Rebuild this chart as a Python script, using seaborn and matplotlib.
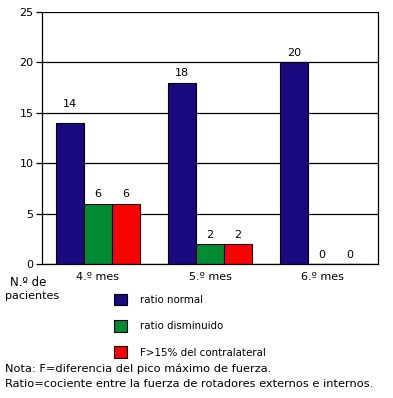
import pandas as pd
import seaborn as sns
import matplotlib.pyplot as plt
from matplotlib.ticker import FixedLocator

meses = ['4.º mes', '5.º mes', '6.º mes']
series = ['ratio normal', 'ratio disminuido', 'F>15% del contralateral']
ratio_normal = [14, 18, 20]
ratio_disminuido = [6, 2, 0]
f_contralateral = [6, 2, 0]
colores = ['#1a0a80', '#008c32', '#ff0000']

df = pd.DataFrame({
    'mes': meses * 3,
    'serie': [s for s in series for _ in meses],
    'n': ratio_normal + ratio_disminuido + f_contralateral,
})

sns.set_style('white')
plt.rcParams['font.family'] = ['DejaVu Sans']
plt.rcParams['text.color'] = 'black'
plt.rcParams['xtick.color'] = 'black'
plt.rcParams['ytick.color'] = 'black'

fig = plt.figure(figsize=(3.93, 3.98), dpi=100)
ax = fig.add_axes([42 / 393, 1 - 264 / 398, 336 / 393, 252 / 398])

sns.barplot(data=df, x='mes', y='n', hue='serie', palette=colores, saturation=1,
            width=0.75, edgecolor='black', linewidth=0.8, ax=ax, legend=True)

# a label that would sit on a gridline just above the bar is pushed up past it
for c in ax.containers:
    vals = c.datavalues
    near = [(v % 5) >= 3.5 for v in vals]
    ax.bar_label(c, labels=['' if n else f'{v:g}' for v, n in zip(vals, near)],
                 fontsize=8, padding=3, color='black')
    ax.bar_label(c, labels=[f'{v:g}' if n else '' for v, n in zip(vals, near)],
                 fontsize=8, padding=10, color='black')

ax.set_xlim(-0.5, 2.5)
ax.set_ylim(0, 25)
ax.set_yticks(range(0, 26, 5))
ax.yaxis.grid(True, color='black', linewidth=0.9)
ax.set_axisbelow(True)
ax.set_xlabel('')
ax.set_ylabel('')
for s in ['left', 'bottom', 'right']:
    ax.spines[s].set_visible(True)
    ax.spines[s].set_color('black')
    ax.spines[s].set_linewidth(0.9)
ax.spines['top'].set_visible(False)

ax.tick_params(axis='x', which='major', length=0, pad=6, labelsize=8)
ax.xaxis.set_minor_locator(FixedLocator([-0.5, 0.5, 1.5, 2.5]))
ax.tick_params(axis='x', which='minor', length=6, width=0.9, color='black', direction='out')
ax.tick_params(axis='y', length=4, width=0.9, color='black', direction='out', labelsize=8, pad=2)
ax.tick_params(left=True, bottom=True)

h, l = ax.get_legend_handles_labels()
ax.legend(h, l, loc='upper left', bbox_to_anchor=(105 / 393, 1 - 285 / 398),
          bbox_transform=fig.transFigure, frameon=False, fontsize=7.4,
          handlelength=1.2, handleheight=1.3, handletextpad=1.3, labelspacing=1.45)

fig.text(10 / 393, 1 - 282 / 398, 'N.º de', fontsize=8.5, va='center')
fig.text(5 / 393, 1 - 296 / 398, 'pacientes', fontsize=8, va='center')
fig.text(5 / 393, 1 - 369 / 398, 'Nota: F=diferencia del pico máximo de fuerza.', fontsize=8.2, va='center')
fig.text(5 / 393, 1 - 384 / 398, 'Ratio=cociente entre la fuerza de rotadores externos e internos.', fontsize=8.2, va='center')

fig.savefig('out.png', dpi=100)
